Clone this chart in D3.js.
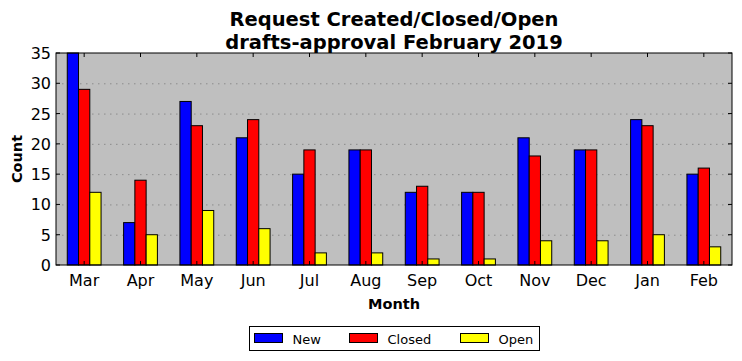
<!DOCTYPE html>
<html>
<head>
<meta charset="utf-8">
<script src="https://cdn.jsdelivr.net/npm/d3@7"></script>
<style>
  body { margin: 0; background: #fff; }
  text { font-family: 'DejaVu Sans', sans-serif; }
</style>
</head>
<body>
<div id="chart"></div>
<script>
const months = ['Mar', 'Apr', 'May', 'Jun', 'Jul', 'Aug', 'Sep', 'Oct', 'Nov', 'Dec', 'Jan', 'Feb'];
const newCounts    = [35, 7, 27, 21, 15, 19, 12, 12, 21, 19, 24, 15];
const closedCounts = [29, 14, 23, 24, 19, 19, 13, 12, 18, 19, 23, 16];
const openCounts   = [12, 5, 9, 6, 2, 2, 1, 1, 4, 4, 5, 3];
const seriesNames  = ['New', 'Closed', 'Open'];
const yTicks = [0, 5, 10, 15, 20, 25, 30, 35];

const COLORS = { New: '#0000ff', Closed: '#ff0000', Open: '#ffff00' };

const W = 742, H = 361;
const M = { left: 56, top: 53, right: 10, bottom: 96 };
const pw = W - M.left - M.right;
const ph = H - M.top - M.bottom;

const svg = d3.select('#chart').append('svg')
  .attr('width', W)
  .attr('height', H);

const g = svg.append('g').attr('transform', `translate(${M.left},${M.top})`);

const x = d3.scaleBand().domain(months).range([0, pw]);
const xs = d3.scaleBand().domain(seriesNames)
  .range([x.bandwidth() * 0.2, x.bandwidth() * 0.8]);
const y = d3.scaleLinear().domain([0, 35]).range([ph, 0]);

// background
g.append('rect')
  .attr('width', pw).attr('height', ph)
  .style('fill', '#bfbfbf');

// grid
g.selectAll('.grid')
    .data(yTicks.slice(1, -1))
  .enter().append('line')
    .attr('x1', 0).attr('x2', pw)
    .attr('y1', d => y(d) + 0.5).attr('y2', d => y(d) + 0.5)
    .style('stroke', '#8c8c8c')
    .style('stroke-width', 1)
    .style('stroke-dasharray', '1.5,4.5');

// bars
const data = months.map((m, i) => ({
  month: m,
  values: [
    { key: 'New', v: newCounts[i] },
    { key: 'Closed', v: closedCounts[i] },
    { key: 'Open', v: openCounts[i] }
  ]
}));

g.selectAll('.group')
    .data(data)
  .enter().append('g')
    .attr('transform', d => `translate(${x(d.month)},0)`)
  .selectAll('rect')
    .data(d => d.values)
  .enter().append('rect')
    .attr('x', d => xs(d.key))
    .attr('y', d => y(d.v))
    .attr('width', xs.bandwidth())
    .attr('height', d => ph - y(d.v))
    .style('fill', d => COLORS[d.key])
    .style('stroke', '#000')
    .style('stroke-width', 1);

// ticks inward on all sides
const tl = 4;
months.forEach(m => {
  const cx = x(m) + x.bandwidth() / 2;
  g.append('line').attr('x1', cx).attr('x2', cx).attr('y1', 0).attr('y2', tl)
    .style('stroke', '#000');
  g.append('line').attr('x1', cx).attr('x2', cx).attr('y1', ph).attr('y2', ph - tl)
    .style('stroke', '#000');
});
yTicks.forEach(t => {
  g.append('line').attr('x1', 0).attr('x2', tl).attr('y1', y(t)).attr('y2', y(t))
    .style('stroke', '#000');
  g.append('line').attr('x1', pw).attr('x2', pw - tl).attr('y1', y(t)).attr('y2', y(t))
    .style('stroke', '#000');
});

// frame
g.append('rect')
  .attr('width', pw).attr('height', ph)
  .style('fill', 'none')
  .style('stroke', '#000')
  .style('stroke-width', 1);

// tick labels
g.selectAll('.xlab')
    .data(months)
  .enter().append('text')
    .attr('x', d => x(d) + x.bandwidth() / 2)
    .attr('y', ph + 21)
    .attr('text-anchor', 'middle')
    .style('font-size', '16px')
    .text(d => d);

g.selectAll('.ylab')
    .data(yTicks)
  .enter().append('text')
    .attr('x', -5)
    .attr('y', d => y(d) + 6)
    .attr('text-anchor', 'end')
    .style('font-size', '16px')
    .text(d => d);

// axis labels
svg.append('text')
  .attr('x', M.left + pw / 2)
  .attr('y', 309)
  .attr('text-anchor', 'middle')
  .style('font-size', '14.5px')
  .style('font-weight', 'bold')
  .text('Month');

svg.append('text')
  .attr('transform', `translate(22,${M.top + ph / 2}) rotate(-90)`)
  .attr('text-anchor', 'middle')
  .style('font-size', '14.5px')
  .style('font-weight', 'bold')
  .text('Count');

// title
const title = ['Request Created/Closed/Open', 'drafts-approval February 2019'];
svg.selectAll('.title')
    .data(title)
  .enter().append('text')
    .attr('x', M.left + pw / 2)
    .attr('y', (d, i) => 26 + i * 23)
    .attr('text-anchor', 'middle')
    .style('font-size', '19.5px')
    .style('font-weight', 'bold')
    .text(d => d);

// legend
const lg = svg.append('g').attr('transform', 'translate(249.5,326.5)');
lg.append('rect')
  .attr('width', 290).attr('height', 24)
  .style('fill', '#fff')
  .style('stroke', '#000');
const lx = [5, 100, 211];
seriesNames.forEach((s, i) => {
  lg.append('rect')
    .attr('x', lx[i]).attr('y', 7)
    .attr('width', 28).attr('height', 9)
    .style('fill', COLORS[s])
    .style('stroke', '#000');
  lg.append('text')
    .attr('x', lx[i] + 38).attr('y', 17)
    .style('font-size', '13px')
    .text(s);
});
</script>
</body>
</html>
